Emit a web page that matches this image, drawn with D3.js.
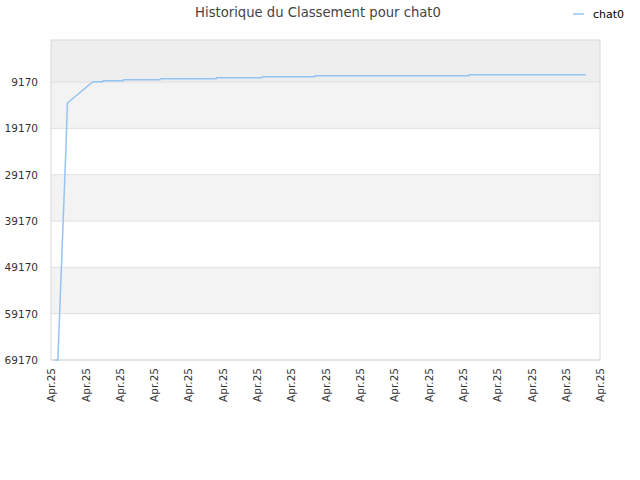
<!DOCTYPE html>
<html>
<head>
<meta charset="utf-8">
<script src="https://cdn.jsdelivr.net/npm/d3@7"></script>
<style>
  body { margin: 0; background: #fff; }
  text { font-family: "DejaVu Sans", sans-serif; }
</style>
</head>
<body>
<div id="viz"></div>
<script>
// data (times on 25 Apr 2025, rank values)
const times = ['00:10', '00:18', '00:39', '00:43', '01:50', '02:16', '02:17', '03:09', '03:10',
  '04:46', '04:47', '07:13', '07:14', '09:13', '09:14', '11:32', '11:33', '18:16', '18:17', '23:23'];
const ranks = [69170, 69170, 23840, 13700, 9100, 9100, 8890, 8890, 8670,
  8670, 8460, 8460, 8240, 8240, 8030, 8030, 7810, 7810, 7600, 7600];
const yTicks = [69170, 59170, 49170, 39170, 29170, 19170, 9170];
const xTickLabels = ['Apr.25', 'Apr.25', 'Apr.25', 'Apr.25', 'Apr.25', 'Apr.25', 'Apr.25', 'Apr.25', 'Apr.25',
  'Apr.25', 'Apr.25', 'Apr.25', 'Apr.25', 'Apr.25', 'Apr.25', 'Apr.25', 'Apr.25'];
const seriesName = 'chat0';

(() => {
  let margin = { top: 40, right: 40, bottom: 120, left: 51 },
    width = 640 - margin.left - margin.right,
    height = 480 - margin.top - margin.bottom;

  let parse = d3.timeParse('%Y-%m-%d %H:%M');
  let day0 = parse('2025-04-25 00:00'),
    day1 = parse('2025-04-26 00:00');

  let data = times.map((t, i) => ({ date: parse('2025-04-25 ' + t), rank: ranks[i] }));

  let svg = d3.select('#viz')
    .append('svg')
    .attr('width', 640)
    .attr('height', 480);

  let g = svg.append('g')
    .attr('transform', `translate(${margin.left}, ${margin.top})`);

  let x = d3.scaleTime()
    .domain([day0, day1])
    .range([0, width]);

  let y = d3.scaleLinear()
    .domain([100, 69170])
    .range([0, height]);

  // alternating bands between ticks
  let bounds = [y.domain()[0]].concat(yTicks.slice().reverse());
  let bandColors = ['#eeeeee', '#f3f3f3', '#ffffff', '#f3f3f3', '#ffffff', '#f3f3f3', '#ffffff'];
  g.selectAll('.band')
    .data(bounds.slice(0, -1))
    .join('rect')
    .attr('class', 'band')
    .attr('x', 0)
    .attr('width', width)
    .attr('y', d => y(d))
    .attr('height', (d, i) => y(bounds[i + 1]) - y(d))
    .style('fill', (d, i) => bandColors[i]);

  // grid lines
  g.selectAll('.grid')
    .data(yTicks)
    .join('line')
    .attr('class', 'grid')
    .attr('x1', 0)
    .attr('x2', width)
    .attr('y1', d => y(d))
    .attr('y2', d => y(d))
    .style('stroke', '#e0e0e0');

  g.append('rect')
    .attr('width', width)
    .attr('height', height)
    .style('fill', 'none')
    .style('stroke', '#d8d8d8');

  // y axis
  let yAxis = g.append('g')
    .call(d3.axisLeft(y).tickValues(yTicks).tickSize(0).tickPadding(13).tickFormat(d3.format('d')));
  yAxis.select('.domain').remove();
  yAxis.selectAll('text')
    .style('font-size', '10.5px')
    .style('fill', '#333');

  // x axis
  let xTicks = d3.range(xTickLabels.length)
    .map(i => new Date(+day0 + i * (day1 - day0) / (xTickLabels.length - 1)));
  let xAxis = g.append('g')
    .attr('transform', `translate(0,${height})`)
    .call(d3.axisBottom(x).tickValues(xTicks).tickSize(0).tickFormat((d, i) => xTickLabels[i]));
  xAxis.select('.domain').remove();
  xAxis.selectAll('text')
    .attr('x', -8)
    .attr('y', 0)
    .attr('dy', '.35em')
    .attr('transform', 'rotate(-90)')
    .attr('text-anchor', 'end')
    .style('font-size', '10.5px')
    .style('fill', '#333');

  // line
  g.append('path')
    .datum(data)
    .attr('d', d3.line().x(d => x(d.date)).y(d => y(d.rank)))
    .style('fill', 'none')
    .style('stroke', '#94c4f2')
    .style('stroke-width', 1.5);

  // title
  svg.append('text')
    .attr('x', 318)
    .attr('y', 17)
    .attr('text-anchor', 'middle')
    .style('font-size', '13.2px')
    .style('fill', '#444')
    .text('Historique du Classement pour ' + seriesName);

  // legend
  let legend = svg.append('g').attr('transform', 'translate(573, 14)');
  legend.append('line')
    .attr('x1', 0).attr('x2', 11)
    .style('stroke', '#94c4f2')
    .style('stroke-width', 1.5);
  legend.append('text')
    .attr('x', 20)
    .attr('dy', '.35em')
    .style('font-size', '11px')
    .style('fill', '#000')
    .text(seriesName);
})();
</script>
</body>
</html>
